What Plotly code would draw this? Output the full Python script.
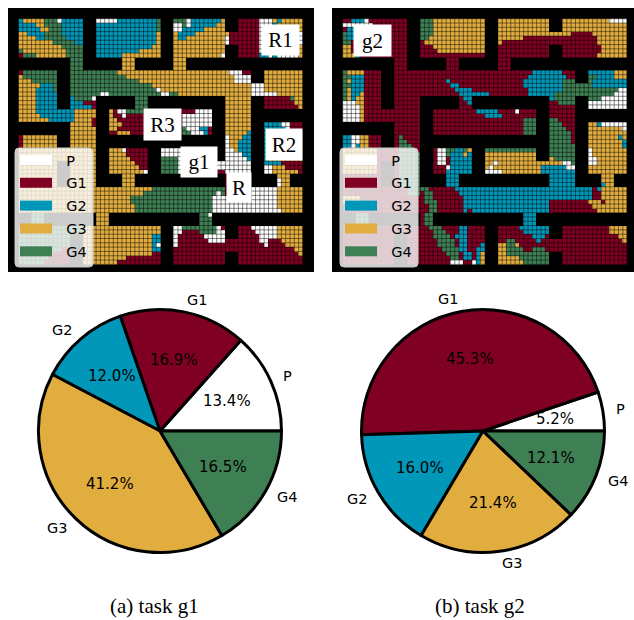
import re
import math
import plotly.graph_objects as go

W, H = 634, 620
CLUSTERS = ["P", "G1", "G2", "G3", "G4"]
COLORS = ["#ffffff", "#7f0022", "#0097b8", "#e1ad3e", "#3f7f54"]
WALL = "#000000"
PIE_G1 = [13.4, 16.9, 12.0, 41.2, 16.5]
PIE_G2 = [5.2, 45.3, 16.0, 21.4, 12.1]

# run-length rows: # wall, . P, r G1, b G2, y G3, g G4
GRID_G1 = [
"b1 y5 g3 .1 b5 #3 .5 b9 g1 #3 g3 .1 b7 y1 #3 r5 .3 y1 b1 y5",
"b4 y2 g4 b5 #3 b14 g1 #3 .2 g1 .1 b6 y2 #3 r5 .3 b1 y6",
"b5 y2 g3 b5 #3 b14 g1 #3 .2 b5 y5 #3 r5 .9 y1",
"y2 b4 g4 b5 #3 b14 y1 #3 y1 b4 y7 y1 r2 r5 .10",
"y4 b2 g5 b4 #3 b14 y1 #3 y1 b2 y9 .1 r2 r5 .10",
"y8 g5 b2 #3 b14 y1 #3 y12 .1 r2 r5 .10",
"y10 g5 #3 b13 y2 #3 y12 #3 r5 .9 y1",
"g1 y10 g4 #3 b10 y5 #3 y12 #3 r5 .9 y1",
"r1 g3 y7 g4 #3 b6 y9 #3 y11 .1 #3 r5 b2 .1 b1 .5 y1",
"#12 g3 #9 y3 #9 y3 #27",
"#12 g3 #9 y3 #9 y3 #27",
"#12 g3 #9 y3 #9 y3 #27",
"r1 g8 #3 g11 y26 .3 r2 #3 y9",
"y1 g8 #3 g13 y25 .4 #3 y9",
"y3 g6 #3 g16 y22 .4 #3 y9",
"y5 b3 g1 #3 g19 y23 .3 y9",
"y4 b4 g1 #3 g20 .1 y21 .3 y9",
"y4 b5 #3 g7 .2 g12 .2 g2 y17 .3 .3 y6",
"y4 b5 #3 b1 g4 .1 #9 g3 #18 y6 #3 r6 g1 y2",
"y4 b5 #3 b3 r3 #9 g3 #18 y6 #3 r7 y2",
"y4 b5 #3 b5 r1 #9 g3 #18 y6 #3 r8 y1",
"y4 b9 y5 #3 y1 r1 .2 g4 r9 r3 .4 #3 y6 #12",
"y5 b8 y5 #3 y1 r2 .1 r4 r9 .7 #3 y6 #12",
"y7 b6 y4 r1 #3 y2 r6 r9 .7 #3 y6 #12",
"#12 y5 r1 #3 y3 r5 r9 .7 #3 y6 #3 b4 .2 r3",
"#12 y6 #3 y2 r6 r9 g1 .3 b2 r1 #3 y6 #3 b5 .1 r3",
"#12 y6 #3 r2 y3 r3 r9 g2 .3 b1 r1 #3 y5 b1 #3 b1 y8",
"r1 y8 #3 y6 #30 .1 y3 b2 #3 b1 y8",
"r1 y8 #3 y6 #30 .1 y2 b3 #3 b1 y8",
"r1 y8 #3 y6 #30 .1 y2 b3 #3 b1 y8",
"y18 #3 y3 .1 r5 #3 .12 #3 .2 y1 b3 #3 b1 y8",
"y18 #3 y4 r5 #3 .12 #3 .4 b2 #3 b1 y8",
"y18 #3 y5 r4 #3 g4 .8 #3 .5 b1 #3 b1 y8",
"y9 #3 y6 #3 y6 r3 #3 g4 .8 .3 .6 #3 b4 r5",
"y9 #3 y6 #3 y7 r2 #3 g4 .8 .3 .6 #3 .2 y3 r4",
"y9 #3 y6 #3 y8 .1 #3 g4 .8 .1 r2 .6 #3 .2 y6 r1",
"y9 #3 y6 #6 y3 #21 r1 .5 #6 y3 #3",
"y9 #3 y6 #6 y3 #21 r1 .5 #6 .1 y2 #3",
"y9 #3 y6 #6 y3 #21 r1 .5 #6 .1 y2 #3",
"y18 y13 g17 r1 .11 y6",
"y18 y11 g17 .1 g1 r1 .11 y6",
"y18 y8 g19 .15 y6",
"y18 y8 g19 .15 y6",
"y18 y9 g18 .15 y6",
"y18 y9 g18 .16 y5",
"#3 g3 #12 y3 #21 g2 .1 #21",
"#3 g3 #12 y3 #21 g3 #21",
"#3 g3 #12 y3 #21 g3 #21",
"g15 y3 y15 #3 .2 g8 .1 r1 #3 r3 .6 y6",
"g15 y3 y15 #3 .2 r4 g4 .2 #3 r4 .5 y6",
"g12 #3 y3 y13 b2 #3 .1 r6 .5 #3 r5 .4 y6",
"g12 #3 y3 y13 b2 #3 .1 r7 .4 r3 r5 .2 r3 y5",
"g12 #3 y3 y13 b1 .1 #3 .1 r11 r3 r6 .1 r4 y4",
"g10 r2 #3 y3 y13 b2 #3 r12 r3 r13 y2",
"g8 r4 #3 y3 y13 r2 #3 r12 #3 r14 y1",
"g7 r5 #3 y3 y7 r8 #3 r12 #3 r15",
"g6 r6 #3 y3 y5 r10 #3 r12 #3 r15",
]

GRID_G2 = [
"r2 b3 .1 r9 #3 g3 y12 #3 y12 #3 y11 .4",
".7 r8 #3 g3 y12 #3 y12 #3 y15",
"r1 b2 r12 #3 g3 y12 #3 y12 #3 y15",
"g1 b2 r12 #3 g3 y12 #3 y12 y3 y2 r5 y8",
"g1 b2 r12 #3 g2 y13 #3 y6 r6 r3 r8 y7",
"g2 r13 #3 r1 y14 #3 y1 r11 r3 r8 y7",
"y2 r13 #3 r3 y12 #3 r12 #3 r9 y6",
"y2 r13 #3 r4 y11 #3 r12 #3 r9 y6",
"y3 b1 r11 #3 r15 #3 r12 #3 r8 y7",
"#12 r3 #9 r3 #9 r3 #27",
"#12 r3 #9 r3 #9 r3 #27",
"#12 r3 #9 r3 #9 r3 #27",
"g1 y4 r4 #3 r32 b7 r3 #3 b6 y3",
"g2 b3 r4 #3 r31 b9 r2 #3 g2 b4 y3",
"g1 y1 b3 r4 #3 r12 b1 r17 b9 g3 #3 g1 b8",
"g2 b3 r4 #3 r13 b2 r15 b9 g3 g3 g1 b8",
"g1 y1 b3 r4 #3 r14 b4 r13 b8 g3 g3 g7 .2",
"g1 y1 b2 y1 r4 #3 r15 b7 r9 b6 g5 g3 g6 .3",
"g1 y1 b1 y2 r4 #3 r6 #9 r1 b2 #18 b1 g5 #3 g3 .6",
".3 y2 r4 #3 r6 #9 r2 b1 #18 r2 g4 #3 .9",
".4 y1 r4 #3 r6 #9 r3 #18 r6 #3 .9",
".4 y1 r13 #3 r10 b5 r4 .1 r4 #3 r6 #12",
".4 y1 r13 #3 r12 b4 r8 #3 r6 #12",
".4 y1 r13 #3 r21 g3 #3 g2 r4 #12",
"#12 r6 #3 r21 g3 #3 g3 r3 #3 y2 b1 .6",
"#12 r6 #3 r21 g3 #3 g4 r2 #3 y8 .1",
"#12 r6 #3 r21 g3 #3 g5 r1 #3 y9",
"b2 .2 y2 r3 #3 r1 g1 r4 #30 g5 r1 #3 y7 b1 y1",
"b2 .2 y2 r3 #3 r1 g2 r3 #30 g5 r1 #3 y8 b1",
"b2 .1 b1 y2 r3 #3 r1 g3 r2 #30 g6 #3 y8 b1",
"y8 r4 r1 g4 r1 #3 r1 .2 g2 b2 g1 y1 #3 g12 #3 g6 #3 .1 y8",
"y8 r4 r1 g5 #3 r1 .2 g1 b3 y1 b1 #3 y12 #3 g6 #3 .1 y8",
"y8 r4 r1 g5 #3 r1 .2 r1 b5 #3 y12 #3 y1 g5 #3 .2 y7",
"y8 r1 #3 r1 g5 #3 r1 .2 r1 b5 #3 y2 .1 y9 y3 y3 .2 g1 #3 .2 y7",
"y8 r1 #3 r1 g5 #3 r3 .1 b5 #3 y1 .1 y10 y1 b2 b4 .2 #3 y9",
"y8 r1 #3 r1 g5 #3 r3 b6 #3 .4 y8 y1 b2 b6 #3 y9",
"r9 #3 r1 g5 #6 b3 #21 b6 #6 y3 #3",
"r9 #3 r1 g5 #6 b3 #21 b6 #6 y3 #3",
"r9 #3 r1 g5 #6 b3 #21 b6 #6 b1 y2 #3",
"r9 r3 r3 g3 g2 r6 b32 r1 b1 y6",
"r9 r3 r3 g3 r1 g2 r6 b31 r2 y6",
"y4 r5 r3 r6 r1 g2 r7 b30 r2 y6",
"y4 r5 r3 r6 r1 g3 r6 b20 r9 y3 r1 y5",
"r18 r2 g2 r6 b20 r10 y8",
"r18 r2 g2 r6 b1 r1 b18 r11 y7",
"#3 g3 #12 r1 g2 #21 b3 #21",
"#3 g3 #12 r1 g2 #21 b3 #21",
"#3 g3 #12 r1 g2 #21 b3 #21",
"r15 r3 r2 g3 r4 b2 r4 #3 r5 b7 #3 r11 y4",
"r18 r3 g3 r3 b2 r4 #3 r6 b6 #3 r11 y4",
"r12 #3 r3 r3 g4 r1 b3 r4 #3 r8 b3 r1 #3 r13 y2",
"r12 #3 r3 r4 g4 r1 b2 r4 #3 r2 g2 r5 b1 r2 r3 r14 y1",
"r12 #3 r3 r4 g4 r1 b2 r3 b1 #3 y2 g2 y1 r7 r3 r15",
"r12 #3 r3 r5 g4 b2 r2 b2 #3 y2 g4 r2 g3 r1 r3 r15",
"r12 #3 r3 r6 g3 r1 b2 r1 b1 y1 #3 y2 g10 #3 r15",
"r12 #3 r3 r7 g2 r1 b2 r1 b1 y1 #3 y5 g7 #3 r15",
"r12 #3 r3 r7 .3 r2 .1 b1 y1 #3 y6 g6 #3 r15",
]

CODE = {"#": 0, ".": 1, "r": 2, "b": 3, "y": 4, "g": 5}
N_COLS = 66


def decode(rows):
    z = []
    for i, row in enumerate(rows):
        line = []
        for ch, n in re.findall(r"([#.rbyg])(\d+)", row):
            line += [CODE[ch]] * int(n)
        if len(line) != N_COLS:
            raise ValueError(f"row {i} has {len(line)} cells: {row}")
        z.append(line)
    return z


def px(x):
    return x / W


def py(y):
    return 1 - y / H


palette = [WALL] + COLORS
scale = []
for i, c in enumerate(palette):
    scale += [[i / 6, c], [(i + 1) / 6, c]]

fig = go.Figure()
CELL = 4.31
FRAMES = [
    dict(x0=8, x1=314, y0=8, y1=272, cx=18.5, cy=18.7, z=decode(GRID_G1), ax="", leg="legend", box=15),
    dict(x0=332, x1=634, y0=8, y1=272, cx=342.7, cy=18.7, z=decode(GRID_G2), ax="2", leg="legend2", box=340),
]

layout_extra = {}
for f in FRAMES:
    xn, yn = "xaxis" + f["ax"], "yaxis" + f["ax"]
    n_rows, n_cols = len(f["z"]), N_COLS
    fig.add_trace(go.Heatmap(
        z=f["z"], zmin=0, zmax=6, colorscale=scale, showscale=False,
        hoverinfo="skip",
        xaxis="x" + f["ax"], yaxis="y" + f["ax"], showlegend=False,
    ))
    # thin cell edges drawn over the cells
    gx, gy = [], []
    for c in range(n_cols + 1):
        gx += [c - 0.5, c - 0.5, None]
        gy += [-0.5, n_rows - 0.5, None]
    for r in range(n_rows + 1):
        gx += [-0.5, n_cols - 0.5, None]
        gy += [r - 0.5, r - 0.5, None]
    fig.add_trace(go.Scatter(
        x=gx, y=gy, mode="lines", hoverinfo="skip", showlegend=False,
        line=dict(color="rgba(0,0,0,0.6)", width=0.8),
        xaxis="x" + f["ax"], yaxis="y" + f["ax"],
    ))
    layout_extra[xn] = dict(
        domain=[px(f["x0"]), px(f["x1"])], visible=False, anchor="y" + f["ax"],
        range=[-0.5 - (f["cx"] - f["x0"]) / CELL, -0.5 + (f["x1"] - f["cx"]) / CELL],
    )
    layout_extra[yn] = dict(
        domain=[py(f["y1"]), py(f["y0"])], visible=False, anchor="x" + f["ax"],
        range=[-0.5 + (f["y1"] - f["cy"]) / CELL, -0.5 - (f["cy"] - f["y0"]) / CELL],
    )
    for name, color in zip(CLUSTERS, COLORS):
        fig.add_trace(go.Scatter(
            x=[None], y=[None], mode="lines", name="\u00a0\u00a0" + name,
            line=dict(color=color, width=10),
            legend=f["leg"], legendgroup=f["leg"] + name,
            xaxis="x" + f["ax"], yaxis="y" + f["ax"],
        ))
    b = f["box"]
    bw, t, bot, rr = 78, 148, 267, 4
    layout_extra[f["leg"]] = dict(
        x=px(b), y=py(t - 4), xanchor="left", yanchor="top",
        bgcolor="rgba(0,0,0,0)", borderwidth=0,
        font=dict(family="DejaVu Sans", size=14.5, color="#000000"),
        itemwidth=32, tracegroupgap=1, itemclick=False, itemdoubleclick=False,
    )
    f["shape"] = dict(
        type="path", xref="paper", yref="paper", layer="above",
        path=(f"M {px(b + rr)} {py(t)} L {px(b + bw - rr)} {py(t)} "
              f"Q {px(b + bw)} {py(t)} {px(b + bw)} {py(t + rr)} "
              f"L {px(b + bw)} {py(bot - rr)} Q {px(b + bw)} {py(bot)} {px(b + bw - rr)} {py(bot)} "
              f"L {px(b + rr)} {py(bot)} Q {px(b)} {py(bot)} {px(b)} {py(bot - rr)} "
              f"L {px(b)} {py(t + rr)} Q {px(b)} {py(t)} {px(b + rr)} {py(t)} Z"),
        fillcolor="rgba(255,255,255,0.8)", line=dict(color="#cccccc", width=1),
    )

annotations = []
PIES = [(PIE_G1, 160), (PIE_G2, 483)]
PCY, PR = 431, 121.5
for values, cx in PIES:
    total = sum(values)
    fig.add_trace(go.Pie(
        values=values, labels=CLUSTERS, sort=False, direction="counterclockwise",
        rotation=90 - values[0] / total * 360, textinfo="none",
        hoverinfo="label+percent", showlegend=False,
        marker=dict(colors=COLORS, line=dict(color="#000000", width=3)),
        domain=dict(x=[px(cx - PR), px(cx + PR)], y=[py(PCY + PR), py(PCY - PR)]),
    ))
    start = 0.0
    for name, v in zip(CLUSTERS, values):
        mid = math.radians(start + v / total * 180)
        start += v / total * 360
        c, s = math.cos(mid), math.sin(mid)
        annotations.append(dict(
            x=px(cx + 0.6 * PR * c), y=py(PCY - 0.6 * PR * s), xref="paper", yref="paper",
            text=f"{v:.1f}%", showarrow=False, xanchor="center", yanchor="middle",
            font=dict(family="DejaVu Sans", size=15, color="#000000"),
        ))
        annotations.append(dict(
            x=px(cx + 1.1 * PR * c), y=py(PCY - 1.1 * PR * s), xref="paper", yref="paper",
            text=name, showarrow=False, xanchor="left" if c > 0 else "right", yanchor="middle",
            font=dict(family="DejaVu Sans", size=14.5, color="#000000"),
            borderpad=0,
        ))

TAGS = [
    ("R1", 262, 299, 25, 55), ("R2", 266, 302, 129, 160), ("R3", 144, 181, 109, 140),
    ("g1", 181, 217, 147, 177), ("R", 227, 251, 173, 202), ("g2", 354, 391, 25, 56),
]
for text, x0, x1, y0, y1 in TAGS:
    annotations.append(dict(
        x=px((x0 + x1) / 2), y=py((y0 + y1) / 2), xref="paper", yref="paper",
        text=text, showarrow=False, xanchor="center", yanchor="middle",
        width=x1 - x0, height=y1 - y0, bgcolor="#ffffff", borderpad=0,
        font=dict(family="Liberation Serif", size=21, color="#000000"),
    ))

CAPTIONS = [("(a) task g1", 154, 605.5), ("(b) task g2", 480, 605.5)]
for text, x, y in CAPTIONS:
    annotations.append(dict(
        x=px(x), y=py(y), xref="paper", yref="paper", text=text, showarrow=False,
        xanchor="center", yanchor="middle", borderpad=0,
        font=dict(family="Liberation Serif", size=21, color="#000000"),
    ))

fig.update_layout(
    width=W, height=H, margin=dict(l=0, r=0, t=0, b=0),
    paper_bgcolor="#ffffff", plot_bgcolor="#000000",
    annotations=annotations, shapes=[f["shape"] for f in FRAMES],
    **layout_extra,
)
fig.write_html(
    "out.html",
    config={"displayModeBar": False},
    post_script="document.body.style.margin='0';document.body.style.overflow='hidden';",
)
